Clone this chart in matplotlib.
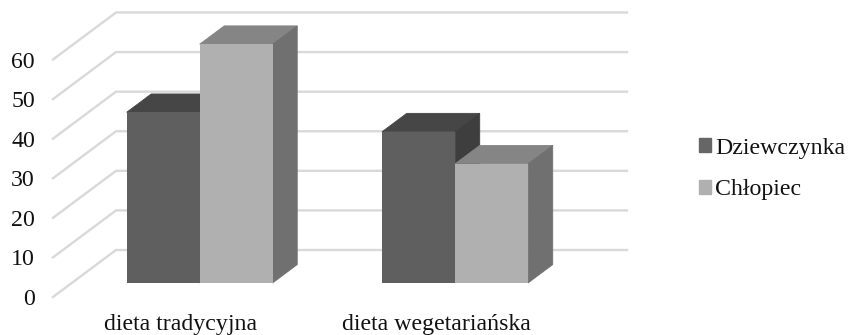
import matplotlib
matplotlib.use('Agg')
import matplotlib.pyplot as plt
from matplotlib.patches import Patch

categories = ['dieta tradycyjna', 'dieta wegetariańska']
dziewczynka = [43.1, 38.2]
chlopiec = [60.3, 30.1]
y_ticks = [0, 10, 20, 30, 40, 50, 60]

plt.rcParams['font.family'] = ['Liberation Serif', 'DejaVu Serif']

W, H = 849, 335
fig = plt.figure(figsize=(W / 100, H / 100), dpi=100)
ax = fig.add_axes([53 / W, (H - 297) / H, 511 / W, 237.5 / H])
ax.set_xlim(0, 2)
ax.set_ylim(0, 60)

# fake 3d: depth of the floor in axis units
floor_dx = 63 / 255.5
floor_dy = 47 / 3.958
bar_start = 0.3
bar_depth = 0.39
half_w = 73 / 255.5

def shift(x, y, d):
    return x + floor_dx * d, y + floor_dy * d

for v in y_ticks:
    x0, y0 = shift(0, v, 0)
    x1, y1 = shift(0, v, 1)
    ax.plot([x0, x1, x1 + 2], [y0, y1, y1], color='#d9d9d9', lw=1.7, clip_on=False, zorder=1)

def draw_bar(left, width, value, front, top, side, z):
    right = left + width
    a, b = bar_start, bar_start + bar_depth
    xs, ys = shift(left, 0, a)
    xe, _ = shift(right, 0, a)
    # top and side first, stroked in their own colour so no seam shows at the front edge
    lvl = value
    pts = [shift(left, lvl, a), shift(right, lvl, a), shift(right, lvl, b), shift(left, lvl, b)]
    ax.fill(*zip(*pts), facecolor=top, edgecolor=top, lw=0.6, clip_on=False, zorder=z)
    pts = [shift(right, 0, a), shift(right, 0, b), shift(right, lvl, b), shift(right, lvl, a)]
    ax.fill(*zip(*pts), facecolor=side, edgecolor=side, lw=0.6, clip_on=False, zorder=z)
    ax.bar(xs, value, width=xe - xs, bottom=ys, align='edge', color=front, clip_on=False, zorder=z + 0.2)

for i in range(len(categories)):
    c = i + 0.5
    draw_bar(c - half_w, half_w, dziewczynka[i], '#5f5f5f', '#464646', '#3e3e3e', 2 + i)
    draw_bar(c, half_w, chlopiec[i], '#b0b0b0', '#858585', '#707070', 2.5 + i)

for s in ax.spines.values():
    s.set_visible(False)
ax.set_yticks(y_ticks)
ax.set_xticks([0.5, 1.5])
ax.set_xticklabels(categories)
ax.tick_params(axis='both', length=0, labelsize=17.2, labelcolor='#111111')
ax.tick_params(axis='y', pad=13)
ax.tick_params(axis='x', pad=12.5)

handles = [Patch(color='#666666', label='Dziewczynka'), Patch(color='#b0b0b0', label='Chłopiec')]
ax.legend(handles=handles, loc='center left', bbox_to_anchor=(699 / W, (H - 169) / H),
          bbox_transform=fig.transFigure, frameon=False, fontsize=17.2, handlelength=0.5,
          handleheight=0.5, handletextpad=0.16, labelspacing=0.87, borderpad=0, borderaxespad=0,
          labelcolor='#111111')

fig.savefig('out.png', dpi=100)
